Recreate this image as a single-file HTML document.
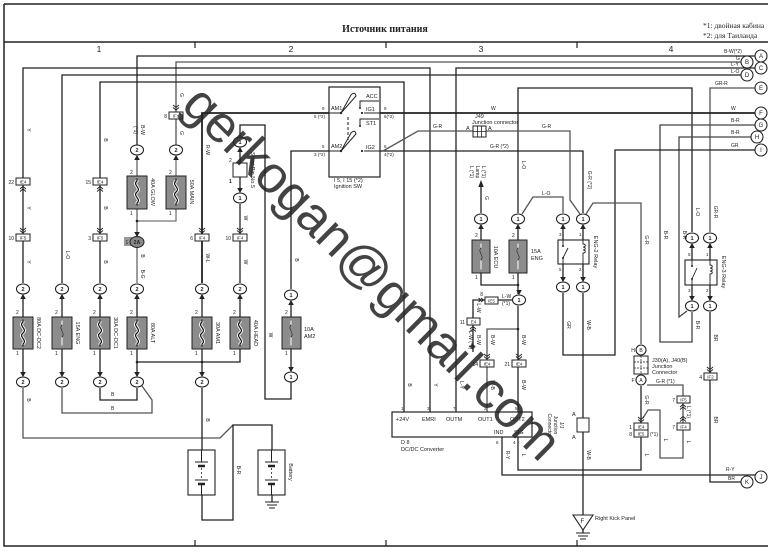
<!DOCTYPE html>
<html><head><meta charset="utf-8">
<style>
html,body{margin:0;padding:0;background:#fff;}
svg{display:block;}
text{font-family:"Liberation Sans",sans-serif;fill:#222;}
</style></head><body>
<svg width="773" height="551" viewBox="0 0 773 551" xmlns="http://www.w3.org/2000/svg">
<rect width="773" height="551" fill="#fff"/>

<!-- frame -->
<g stroke="#222" stroke-width="1.5" fill="none">
<path d="M4,4 H768 M4,4 V546 H768 M4,42 H768"/>
<path d="M195,42 V48 M386,42 V48 M577,42 V48 M195,540 V546 M386,540 V546 M577,540 V546" stroke-width="1.2"/>
</g>
<text x="385" y="32" text-anchor="middle" font-family="Liberation Serif,serif" style="font-family:'Liberation Serif',serif" font-size="10" font-weight="bold">Источник питания</text>
<text x="703" y="28" font-size="7.5" style="font-family:'Liberation Serif',serif">*1: двойная кабина</text>
<text x="703" y="38" font-size="7.5" style="font-family:'Liberation Serif',serif">*2: для Таиланда</text>
<g font-size="8.5" text-anchor="middle">
<text x="99" y="52">1</text><text x="291" y="52">2</text><text x="481" y="52">3</text><text x="671" y="52">4</text>
</g>

<!-- wires -->
<g stroke="#222" stroke-width="1.3" fill="none">
<path d="M137,145 V56 H755"/>
<path d="M176,145 V62 H741" stroke="#555"/>
<path d="M23,283 V68 H430 V412"/>
<path d="M456,412 V68 H755"/>
<path d="M62,283 V75 H741"/>
<path d="M100,283 V82 H404 V412"/>
<path d="M518,213 V88 H692 V232"/>
<path d="M710,232 V88 H755" stroke="#555"/>
<path d="M202,283 V113 H329 M380,113 H755" stroke-width="1.8"/>
<path d="M240,136 V125 H265 V399 H291 V382"/>
<path d="M692,312 V342 H660 V125 H755" stroke="#444"/>
<path d="M687,311 L679,317 V137 H751" stroke="#444"/>
<path d="M563,293 V355 H615 V150 H755"/>
<path d="M291,289 V151 H329 M380,151 H583 V213"/>
<path d="M383,151 L418,131 H473 M486,131 H570 V200 L580,214" stroke="#555"/>
<path d="M586,214 L593,203 H641 V344" stroke="#555"/>
<path d="M522,214 L533,197 H563 V213" stroke="#555"/>

<path d="M137,156 V176 M137,209 V236 M137,248 V283" stroke="#666"/>
<path d="M176,156 V176 M176,209 V221 H137" stroke="#777"/>
<path d="M240,148 V163 M240,177 V192 M240,204 V283"/>

<path d="M23,295 V317 M23,349 V376 M62,295 V317 M62,349 V376 M100,295 V317 M100,349 V376 M137,295 V317 M137,349 V376 M202,295 V317 M202,349 V376 M240,295 V317 M240,349 V362 H137"/>
<path d="M23,388 V438 H220 L233,425" stroke="#555"/>
<path d="M62,388 V413 H152 V400 L142,386" stroke="#555"/>
<path d="M100,388 V400 H137 V388"/>
<path d="M202,388 V450 M202,495 V520 H233 V425 H272 V450 M272,495 V502"/>
<path d="M291,301 V317 M291,349 V371"/>

<path d="M481,186 V213 M481,225 V240 M481,273 V285 H518"/>
<path d="M518,225 V240 M518,273 V294 M518,306 V360 M518,367 V412"/>
<path d="M518,329 H487 V360 M487,367 V412" stroke="#555"/>
<path d="M513,300 H498 M485,300 H473 V318 M473,325 V352"/>
<path d="M518,437 V470 H641 V437"/>
<path d="M502,437 V475 H755"/>
<path d="M641,386 V423"/>
<path d="M647,385 H683 V396 M683,403 V423 M683,430 V458 H660 V410 H648 L643,418" stroke="#555"/>
<path d="M563,225 V240 M583,225 V240 M563,264 V281 M583,264 V281 M583,293 V515"/>
<path d="M692,244 V260 M710,244 V260 M692,285 V300 M710,285 V300 M710,312 V373 M710,380 V482 H741"/>
<path d="M583,530 V533"/>
</g>
<polygon points="481,180 478.3,187 483.7,187" fill="#222"/>

<!-- fuses -->
<g stroke="#222" stroke-width="1" fill="#8c8c8c">
<rect x="13" y="317" width="20" height="32"/><rect x="52" y="317" width="20" height="32"/>
<rect x="90" y="317" width="20" height="32"/><rect x="127" y="317" width="20" height="32"/>
<rect x="192" y="317" width="20" height="32"/><rect x="230" y="317" width="20" height="32"/>
<rect x="127" y="176" width="20" height="33"/><rect x="166" y="176" width="20" height="33"/>
<rect x="282" y="317" width="19" height="32"/>
<rect x="472" y="240" width="18" height="33"/><rect x="509" y="240" width="18" height="33"/>
</g>
<g fill="none" stroke-linecap="round">
<g stroke="#fff" stroke-width="3">
<path d="M23,322 c-5,4 5,7 0,11 s5,7 0,11"/><path d="M100,322 c-5,4 5,7 0,11 s5,7 0,11"/>
<path d="M137,322 c-5,4 5,7 0,11 s5,7 0,11"/><path d="M202,322 c-5,4 5,7 0,11 s5,7 0,11"/>
<path d="M240,322 c-5,4 5,7 0,11 s5,7 0,11"/>
<path d="M137,181 c-5,4 5,7 0,11 s5,7 0,11"/><path d="M176,181 c-5,4 5,7 0,11 s5,7 0,11"/>
</g>
<g stroke="#111" stroke-width="1.2">
<path d="M23,320 v2 c-5,4 5,7 0,11 s5,7 0,11 v2"/><path d="M100,320 v2 c-5,4 5,7 0,11 s5,7 0,11 v2"/>
<path d="M137,320 v2 c-5,4 5,7 0,11 s5,7 0,11 v2"/><path d="M202,320 v2 c-5,4 5,7 0,11 s5,7 0,11 v2"/>
<path d="M240,320 v2 c-5,4 5,7 0,11 s5,7 0,11 v2"/>
<path d="M137,179 v2 c-5,4 5,7 0,11 s5,7 0,11 v2"/><path d="M176,179 v2 c-5,4 5,7 0,11 s5,7 0,11 v2"/>
</g>
<g stroke="#fff" stroke-width="1">
<path d="M62,321 v4 c-4,4 4,8 0,12 v8"/><path d="M291,321 v4 c-4,4 4,8 0,12 v8"/>
<path d="M481,244 v4 c-4,4 4,8 0,12 v9"/><path d="M518,244 v4 c-4,4 4,8 0,12 v9"/>
</g>
<g stroke="#111" stroke-width="0.8">
<path d="M62,325 c-4,4 4,8 0,12"/><path d="M291,325 c-4,4 4,8 0,12"/>
<path d="M481,248 c-4,4 4,8 0,12"/><path d="M518,248 c-4,4 4,8 0,12"/>
</g>
</g>

<!-- fuse pin numbers & labels -->
<g font-size="5">
<text x="16" y="314">2</text><text x="16" y="355">1</text>
<text x="55" y="314">2</text><text x="55" y="355">1</text>
<text x="93" y="314">2</text><text x="93" y="355">1</text>
<text x="130" y="314">2</text><text x="130" y="355">1</text>
<text x="195" y="314">2</text><text x="195" y="355">1</text>
<text x="233" y="314">2</text><text x="233" y="355">1</text>
<text x="130" y="174">2</text><text x="130" y="215">1</text>
<text x="169" y="174">2</text><text x="169" y="215">1</text>
<text x="285" y="314">2</text><text x="285" y="355">1</text>
<text x="475" y="237">2</text><text x="475" y="279">1</text>
<text x="512" y="237">2</text><text x="512" y="279">1</text>
</g>
<g font-size="5.5" text-anchor="middle">
<text transform="translate(37,333) rotate(90)">80A DC-DC2</text>
<text transform="translate(76,333) rotate(90)">15A ENG</text>
<text transform="translate(114,333) rotate(90)">30A DC-DC1</text>
<text transform="translate(151,333) rotate(90)">80A ALT</text>
<text transform="translate(216,333) rotate(90)">30A AM1</text>
<text transform="translate(254,333) rotate(90)">40A HEAD</text>
<text transform="translate(151,192) rotate(90)">40A GLOW</text>
<text transform="translate(190,192) rotate(90)">50A MAIN</text>
<text transform="translate(494,257) rotate(90)">10A ECU</text>
<text transform="translate(251,170) rotate(90)">Short Pin No.5</text>
<text transform="translate(594,252) rotate(90)">ENG-2 Relay</text>
<text transform="translate(722,272) rotate(90)">ENG-3 Relay</text>
<text transform="translate(207,472) rotate(90)">Battery</text>
<text transform="translate(289,472) rotate(90)">Battery</text>
</g>
<g font-size="5.5">
<text x="304" y="331">10A</text><text x="304" y="338">AM2</text>
<text x="531" y="253">15A</text><text x="531" y="260">ENG</text>
</g>

<!-- short pin -->
<rect x="233" y="163" width="14" height="14" fill="#fff" stroke="#222"/>
<text x="229" y="162" font-size="5">2</text><text x="229" y="183" font-size="5" font-weight="bold">1</text>

<!-- connectors (ellipses) -->
<g fill="#fff" stroke="#222" stroke-width="1.1">
<ellipse cx="137" cy="150" rx="6.5" ry="5"/><ellipse cx="176" cy="150" rx="6.5" ry="5"/>
<ellipse cx="240" cy="142" rx="6.5" ry="5"/><ellipse cx="240" cy="198" rx="6.5" ry="5"/>
<ellipse cx="23" cy="289" rx="6.5" ry="5"/><ellipse cx="62" cy="289" rx="6.5" ry="5"/>
<ellipse cx="100" cy="289" rx="6.5" ry="5"/><ellipse cx="137" cy="289" rx="6.5" ry="5"/>
<ellipse cx="202" cy="289" rx="6.5" ry="5"/><ellipse cx="240" cy="289" rx="6.5" ry="5"/>
<ellipse cx="291" cy="295" rx="6.5" ry="5"/><ellipse cx="291" cy="377" rx="6.5" ry="5"/>
<ellipse cx="23" cy="382" rx="6.5" ry="5"/><ellipse cx="62" cy="382" rx="6.5" ry="5"/>
<ellipse cx="100" cy="382" rx="6.5" ry="5"/><ellipse cx="137" cy="382" rx="6.5" ry="5"/>
<ellipse cx="202" cy="382" rx="6.5" ry="5"/>
<ellipse cx="481" cy="219" rx="6.5" ry="5"/><ellipse cx="518" cy="219" rx="6.5" ry="5"/>
<ellipse cx="519" cy="300" rx="6.5" ry="5"/>
<ellipse cx="563" cy="219" rx="6.5" ry="5"/><ellipse cx="583" cy="219" rx="6.5" ry="5"/>
<ellipse cx="563" cy="287" rx="6.5" ry="5"/><ellipse cx="583" cy="287" rx="6.5" ry="5"/>
<ellipse cx="692" cy="238" rx="6.5" ry="5"/><ellipse cx="710" cy="238" rx="6.5" ry="5"/>
<ellipse cx="692" cy="306" rx="6.5" ry="5"/><ellipse cx="710" cy="306" rx="6.5" ry="5"/>
<circle cx="761" cy="56" r="6"/><circle cx="747" cy="62" r="6"/><circle cx="761" cy="68" r="6"/>
<circle cx="747" cy="75" r="6"/><circle cx="761" cy="88" r="6"/><circle cx="761" cy="113" r="6"/>
<circle cx="761" cy="125" r="6"/><circle cx="757" cy="137" r="6"/><circle cx="761" cy="150" r="6"/>
<circle cx="761" cy="477" r="6"/><circle cx="747" cy="482" r="6"/>
<circle cx="641" cy="350" r="5"/><circle cx="641" cy="380" r="5"/>
</g>
<rect x="124" y="237" width="8" height="9" fill="#999"/>
<ellipse cx="137" cy="242" rx="7" ry="5.5" fill="#888" stroke="#222" stroke-width="1"/>
<text x="125.5" y="244" font-size="5">1</text>
<text x="137" y="244" font-size="5" text-anchor="middle" font-weight="bold">2A</text>

<g font-size="5.5" text-anchor="middle" font-weight="bold">
<text x="137" y="152">2</text><text x="176" y="152">2</text>
<text x="240" y="144">1</text><text x="240" y="200">1</text>
<text x="23" y="291">2</text><text x="62" y="291">2</text><text x="100" y="291">2</text>
<text x="137" y="291">2</text><text x="202" y="291">2</text><text x="240" y="291">2</text>
<text x="291" y="297">1</text><text x="291" y="379">1</text>
<text x="23" y="384">2</text><text x="62" y="384">2</text><text x="100" y="384">2</text>
<text x="137" y="384">2</text><text x="202" y="384">2</text>
<text x="481" y="221">1</text><text x="518" y="221">1</text><text x="519" y="302">1</text>
<text x="563" y="221">1</text><text x="583" y="221">1</text>
<text x="563" y="289">1</text><text x="583" y="289">1</text>
<text x="692" y="240">1</text><text x="710" y="240">1</text>
<text x="692" y="308">1</text><text x="710" y="308">1</text>
</g>
<g font-size="6" text-anchor="middle">
<text x="761" y="58">A</text><text x="747" y="64">B</text><text x="761" y="70">C</text>
<text x="747" y="77">D</text><text x="761" y="90">E</text><text x="761" y="115">F</text>
<text x="761" y="127">G</text><text x="757" y="139">H</text><text x="761" y="152">I</text>
<text x="761" y="479">J</text><text x="747" y="484">K</text>
<text x="641" y="352" font-size="5">B</text><text x="641" y="382" font-size="5">A</text>
<text x="633" y="352" font-size="5">H</text><text x="633" y="382" font-size="5">F</text>
</g>

<!-- arrows into connectors -->
<g fill="#222">
<polygon points="137,155 134.2,160 139.8,160"/><polygon points="176,155 173.2,160 178.8,160"/>
<polygon points="240,147 237.2,152 242.8,152"/>
<polygon points="23,294 20.2,299 25.8,299"/><polygon points="62,294 59.2,299 64.8,299"/>
<polygon points="100,294 97.2,299 102.8,299"/><polygon points="137,294 134.2,299 139.8,299"/>
<polygon points="202,294 199.2,299 204.8,299"/><polygon points="240,294 237.2,299 242.8,299"/>
<polygon points="291,300 288.2,305 293.8,305"/>
<polygon points="481,224 478.2,229 483.8,229"/><polygon points="518,224 515.2,229 520.8,229"/>
<polygon points="563,224 560.2,229 565.8,229"/><polygon points="583,224 580.2,229 585.8,229"/>
<polygon points="692,243 689.2,248 694.8,248"/><polygon points="710,243 707.2,248 712.8,248"/>
<polygon points="240,193 237.2,188 242.8,188"/>
<polygon points="23,377 20.2,372 25.8,372"/><polygon points="62,377 59.2,372 64.8,372"/>
<polygon points="100,377 97.2,372 102.8,372"/><polygon points="137,377 134.2,372 139.8,372"/>
<polygon points="202,377 199.2,372 204.8,372"/><polygon points="291,372 288.2,367 293.8,367"/>
<polygon points="137,237 134.2,232 139.8,232"/>
<polygon points="519,295 516.2,290 521.8,290"/>
<polygon points="563,282 560.2,277 565.8,277"/><polygon points="583,282 580.2,277 585.8,277"/>
<polygon points="692,301 689.2,296 694.8,296"/><polygon points="710,301 707.2,296 712.8,296"/>
</g>
<g fill="#222">
<circle cx="137" cy="221" r="1.3"/><circle cx="137" cy="362" r="1.3"/><circle cx="202" cy="362" r="1.3"/>
<circle cx="518" cy="285" r="1.3"/><circle cx="518" cy="329" r="1.3"/>
</g>

<!-- inline connector boxes -->
<g fill="#fff" stroke="#222" stroke-width="1">
<rect x="16" y="178" width="14" height="7"/><rect x="16" y="234" width="14" height="7"/>
<rect x="93" y="178" width="14" height="7"/><rect x="93" y="234" width="14" height="7"/>
<rect x="169" y="112" width="14" height="7"/>
<rect x="195" y="234" width="14" height="7"/><rect x="233" y="234" width="14" height="7"/>
<rect x="485" y="297" width="13" height="7"/><rect x="467" y="318" width="13" height="7"/>
<rect x="480" y="360" width="14" height="7"/><rect x="512" y="360" width="14" height="7"/>
<rect x="634" y="423" width="14" height="7"/><rect x="634" y="430" width="14" height="7"/>
<rect x="677" y="396" width="13" height="7"/><rect x="677" y="423" width="13" height="7"/>
<rect x="704" y="373" width="13" height="7"/>
</g>
<g font-size="4.5" text-anchor="middle">
<text x="23" y="183.5">IE4</text><text x="23" y="239.5">IF5</text>
<text x="100" y="183.5">IE4</text><text x="100" y="239.5">IF5</text>
<text x="176" y="117.5">IFs</text>
<text x="202" y="239.5">IF4</text><text x="240" y="239.5">IF4</text>
<text x="491.5" y="302.5">IE5</text><text x="473.5" y="323.5">E4</text>
<text x="487" y="365.5">IE4</text><text x="519" y="365.5">IE4</text>
<text x="641" y="428.5">IE4</text><text x="641" y="435.5">IE5</text>
<text x="683.5" y="401.5">IF5</text><text x="683.5" y="428.5">IF4</text>
<text x="710.5" y="378.5">IF2</text>
</g>
<g font-size="5" text-anchor="end">
<text x="14" y="184">22</text><text x="14" y="240">10</text>
<text x="91" y="184">15</text><text x="91" y="240">3</text>
<text x="167" y="118">8</text>
<text x="193" y="240">6</text><text x="231" y="240">10</text>
<text x="465" y="324">11</text><text x="478" y="366">14</text><text x="510" y="366">21</text>
<text x="632" y="429">1</text><text x="632" y="436">8</text>
<text x="675" y="402">7</text><text x="675" y="429">7</text><text x="702" y="379">4</text>
<text x="483" y="296">8</text>
</g>
<!-- chevrons -->
<g fill="none" stroke="#222" stroke-width="0.9">
<path d="M20,189 l3,-2.5 l3,2.5 M20,191.5 l3,-2.5 l3,2.5"/>
<path d="M97,189 l3,-2.5 l3,2.5 M97,191.5 l3,-2.5 l3,2.5"/>
<path d="M20,228 l3,2.5 l3,-2.5 M20,230.5 l3,2.5 l3,-2.5"/>
<path d="M97,228 l3,2.5 l3,-2.5 M97,230.5 l3,2.5 l3,-2.5"/>
<path d="M173,105 l3,2.5 l3,-2.5 M173,107.5 l3,2.5 l3,-2.5"/>
<path d="M199,228 l3,2.5 l3,-2.5 M199,230.5 l3,2.5 l3,-2.5"/>
<path d="M237,228 l3,2.5 l3,-2.5 M237,230.5 l3,2.5 l3,-2.5"/>
<path d="M484,354 l3,2.5 l3,-2.5 M484,356.5 l3,2.5 l3,-2.5"/>
<path d="M516,354 l3,2.5 l3,-2.5 M516,356.5 l3,2.5 l3,-2.5"/>
<path d="M470,329 l3,-2.5 l3,2.5 M470,331.5 l3,-2.5 l3,2.5"/>
<path d="M707,367 l3,2.5 l3,-2.5 M707,369.5 l3,2.5 l3,-2.5"/>
<path d="M680,407 l3,-2.5 l3,2.5 M680,409.5 l3,-2.5 l3,2.5"/>
<path d="M680,419 l3,-2.5 l3,2.5 M680,421.5 l3,-2.5 l3,2.5"/>
<path d="M638,417 l3,2.5 l3,-2.5 M638,419.5 l3,2.5 l3,-2.5"/>
<path d="M481,298 l2.5,2 l-2.5,2 M478.5,298 l2.5,2 l-2.5,2"/>
</g>

<!-- ignition switch -->
<rect x="329" y="87" width="51" height="90" fill="#fff" stroke="#222" stroke-width="1.2"/>
<g stroke="#222" stroke-width="1" fill="none">
<path d="M329,113 H341 M329,151 H341"/>
<path d="M341,113 L351,95 Q355,91 356,96 Z"/>
<path d="M341,151 L351,133 Q355,129 356,134 Z"/>
<path d="M348,117 V140" stroke-dasharray="3,2"/>
<path d="M364,113 H380 M364,151 H380"/>
<path d="M360,108 V101 H379 M360,126 V119 H379"/>
</g>
<g fill="#222"><circle cx="341" cy="113" r="1.2"/><circle cx="341" cy="151" r="1.2"/>
<circle cx="362" cy="113" r="1.1"/><circle cx="362" cy="151" r="1.1"/><circle cx="360" cy="108" r="1"/><circle cx="360" cy="126" r="1"/></g>
<g font-size="5.5">
<text x="331" y="110">AM1</text><text x="331" y="148">AM2</text>
<text x="366" y="98">ACC</text><text x="366" y="111">IG1</text><text x="366" y="125">ST1</text><text x="366" y="149">IG2</text>
</g>
<g font-size="4.5">
<text x="322" y="110">9</text><text x="314" y="118">5 (*2)</text>
<text x="322" y="148">5</text><text x="314" y="156">3 (*2)</text>
<text x="384" y="110">9</text><text x="384" y="118">6(*2)</text>
<text x="384" y="148">6</text><text x="384" y="156">4(*2)</text>
</g>
<text x="334" y="182" font-size="5.5">I 5, I 15 (*2)</text>
<text x="334" y="188" font-size="5.5">Ignition SW</text>

<!-- J49 -->
<rect x="473" y="126" width="13" height="11" fill="#fff" stroke="#222"/>
<path d="M477.5,126 V137 M481.5,126 V137 M473,131.5 H486" stroke="#222" stroke-width="0.8"/>
<g font-size="5.5"><text x="466" y="130">A</text><text x="488" y="130">A</text>
<text x="475" y="118">J49</text><text x="472" y="124">Junction connector</text></g>

<!-- relays -->
<rect x="558" y="240" width="31" height="24" fill="#fff" stroke="#222" stroke-width="1.1"/>
<rect x="685" y="260" width="32" height="25" fill="#fff" stroke="#222" stroke-width="1.1"/>
<g stroke="#222" stroke-width="0.9" fill="none">
<path d="M563,240 V246 M563,258 V264 M563,258 L568,248"/>
<path d="M583,240 V244 c3,0 3,3 0,3 c3,0 3,3 0,3 c3,0 3,3 0,3 V264"/>
<path d="M692,260 V266 M692,279 V285 M692,279 L697,268"/>
<path d="M710,260 V265 c3,0 3,3 0,3 c3,0 3,3 0,3 c3,0 3,3 0,3 V285"/>
</g>
<g fill="#222"><circle cx="563" cy="246" r="1"/><circle cx="563" cy="258" r="1"/>
<circle cx="692" cy="266" r="1"/><circle cx="692" cy="279" r="1"/></g>
<g font-size="4.5">
<text x="559" y="236">3</text><text x="579" y="236">1</text><text x="559" y="271">5</text><text x="579" y="271">2</text>
<text x="688" y="256">5</text><text x="706" y="256">1</text><text x="688" y="292">3</text><text x="706" y="292">2</text>
</g>

<!-- J30 junction connector -->
<rect x="634" y="356" width="14" height="18" fill="#fff" stroke="#222"/>
<path d="M641,356 V374 M634,362 H648 M634,368 H648" stroke="#222" stroke-width="0.7" stroke-dasharray="2,1"/>
<g font-size="5.5"><text x="652" y="362">J30(A), J40(B)</text><text x="652" y="368">Junction</text><text x="652" y="374">Connector</text></g>

<!-- J/C near ground -->
<rect x="577" y="418" width="12" height="14" fill="#fff" stroke="#222"/>
<g font-size="5.5"><text x="572" y="416">A</text><text x="572" y="439">A</text></g>
<g font-size="5" text-anchor="middle">
<text transform="translate(560,425) rotate(90)">J/J</text>
<text transform="translate(554,425) rotate(90)">Junction</text>
<text transform="translate(548,425) rotate(90)">Connector</text>
</g>

<!-- ground F -->
<polygon points="573,515 593,515 583,530" fill="#fff" stroke="#222" stroke-width="1.1"/>
<text x="580.5" y="523" font-size="6">F</text>
<text x="595" y="520" font-size="5.5">Right Kick Panel</text>
<path d="M576,533 H590 M578,536 H588 M580,539 H586" stroke="#222" stroke-width="0.9"/>
<path d="M265,502 H279 M267,505 H277 M269,508 H275" stroke="#222" stroke-width="0.9"/>

<!-- batteries -->
<g stroke="#222" fill="#fff" stroke-width="1.1">
<rect x="188" y="450" width="27" height="45"/><rect x="258" y="450" width="27" height="45"/>
</g>
<g stroke="#222" fill="none">
<path d="M201.5,450 V462 M195,462 H208 M201.5,484 V495 M195,480 H208" stroke-width="1"/>
<path d="M198,466 H205 M198,484 H205" stroke-width="2.5"/>
<path d="M201.5,468 V478" stroke-dasharray="2,2" stroke-width="0.8"/>
<path d="M271.5,450 V462 M265,462 H278 M271.5,484 V495 M265,480 H278" stroke-width="1"/>
<path d="M268,466 H275 M268,484 H275" stroke-width="2.5"/>
<path d="M271.5,468 V478" stroke-dasharray="2,2" stroke-width="0.8"/>
</g>

<!-- DC/DC converter -->
<rect x="392" y="412" width="140" height="25" fill="#fff" stroke="#222" stroke-width="1.2"/>
<g font-size="5.5">
<text x="396" y="421">+24V</text><text x="422" y="421">EMRI</text><text x="446" y="421">OUTM</text>
<text x="478" y="421">OUT1</text><text x="510" y="421">OUT2</text>
<text x="494" y="434">IND</text><text x="514" y="434">SIG</text>
<text x="401" y="444">D 8</text><text x="401" y="451">DC/DC Converter</text>
</g>
<g font-size="4.5">
<text x="401" y="410">1</text><text x="427" y="410">3</text><text x="453" y="410">7</text>
<text x="484" y="410">2</text><text x="515" y="410">5</text>
<text x="496" y="444">6</text><text x="513" y="444">4</text>
</g>

<!-- wire labels -->
<g font-size="5" text-anchor="middle">
<text transform="translate(27,130) rotate(90)">Y</text>
<text transform="translate(27,208) rotate(90)">Y</text>
<text transform="translate(27,262) rotate(90)">Y</text>
<text transform="translate(66,255) rotate(90)">L-O</text>
<text transform="translate(104,140) rotate(90)">B</text>
<text transform="translate(104,208) rotate(90)">B</text>
<text transform="translate(104,262) rotate(90)">B</text>
<text transform="translate(141,130) rotate(90)">B-W</text>
<text transform="translate(134,130) rotate(90)">(*1)</text>
<text transform="translate(141,256) rotate(90)">B</text>
<text transform="translate(141,274) rotate(90)">B-G</text>
<text transform="translate(180,95) rotate(90)">G</text>
<text transform="translate(180,133) rotate(90)">G</text>
<text transform="translate(206,150) rotate(90)">R-W</text>
<text transform="translate(206,258) rotate(90)">W-L</text>
<text transform="translate(244,218) rotate(90)">W</text>
<text transform="translate(244,262) rotate(90)">W</text>
<text transform="translate(295,260) rotate(90)">B</text>
<text transform="translate(269,335) rotate(90)">W</text>
<text transform="translate(27,400) rotate(90)">B</text>
<text transform="translate(206,420) rotate(90)">B</text>
<text transform="translate(237,470) rotate(90)">B-R</text>
<text transform="translate(408,385) rotate(90)">B</text>
<text transform="translate(434,385) rotate(90)">Y</text>
<text transform="translate(460,385) rotate(90)">L-Y</text>
<text transform="translate(485,198) rotate(90)">G</text>
<text transform="translate(470,172) rotate(90)">L (*1)</text>
<text transform="translate(476,172) rotate(90)">Lamp</text>
<text transform="translate(482,172) rotate(90)">L (*1)</text>
<text transform="translate(522,165) rotate(90)">L-O</text>
<text transform="translate(588,180) rotate(90)">G-R (*2)</text>
<text transform="translate(567,325) rotate(90)">GR</text>
<text transform="translate(587,325) rotate(90)">W-B</text>
<text transform="translate(587,455) rotate(90)">W-B</text>
<text transform="translate(645,240) rotate(90)">G-R</text>
<text transform="translate(645,400) rotate(90)">G-R</text>
<text transform="translate(664,235) rotate(90)">B-R</text>
<text transform="translate(683,235) rotate(90)">B-R</text>
<text transform="translate(696,212) rotate(90)">L-O</text>
<text transform="translate(714,212) rotate(90)">GR-R</text>
<text transform="translate(696,325) rotate(90)">B-R</text>
<text transform="translate(714,338) rotate(90)">BR</text>
<text transform="translate(714,420) rotate(90)">BR</text>
<text transform="translate(522,340) rotate(90)">B-W</text>
<text transform="translate(491,340) rotate(90)">B-W</text>
<text transform="translate(477,340) rotate(90)">B-W</text>
<text transform="translate(469,340) rotate(90)">L-W (*1)</text>
<text transform="translate(477,308) rotate(90)">L-W</text>
<text transform="translate(491,385) rotate(90)">W-B</text>
<text transform="translate(522,385) rotate(90)">B-W</text>
<text transform="translate(687,412) rotate(90)">L (*1)</text>
<text transform="translate(687,442) rotate(90)">L</text>
<text transform="translate(664,440) rotate(90)">L</text>
<text transform="translate(522,455) rotate(90)">L</text>
<text transform="translate(645,455) rotate(90)">L</text>
<text transform="translate(506,455) rotate(90)">R-Y</text>
</g>
<g font-size="5">
<text x="502" y="298">L-W</text><text x="502" y="305">(*1)</text>
<text x="650" y="436">(*1)</text>
<text x="656" y="383">G-R (*1)</text>
<text x="542" y="195">L-O</text>
<text x="491" y="110">W</text><text x="731" y="110">W</text>
<text x="433" y="128">G-R</text><text x="542" y="128">G-R</text>
<text x="490" y="148">G-R (*2)</text>
<text x="724" y="53">B-W(*2)</text><text x="736" y="60">G</text>
<text x="731" y="66">L-Y</text><text x="731" y="73">L-O</text>
<text x="715" y="85">GR-R</text><text x="731" y="122">B-R</text>
<text x="731" y="134">B-R</text><text x="731" y="147">GR</text>
<text x="726" y="471">R-Y</text><text x="728" y="480">BR</text>
<text x="111" y="396">B</text><text x="111" y="410">B</text>
</g>

<!-- watermark -->
<text x="180" y="107" transform="rotate(44.7 180 107)" font-size="52" fill="#9c9c9c" fill-opacity="0.85">gerkogan@gmail.com</text>
</svg>
</body></html>
